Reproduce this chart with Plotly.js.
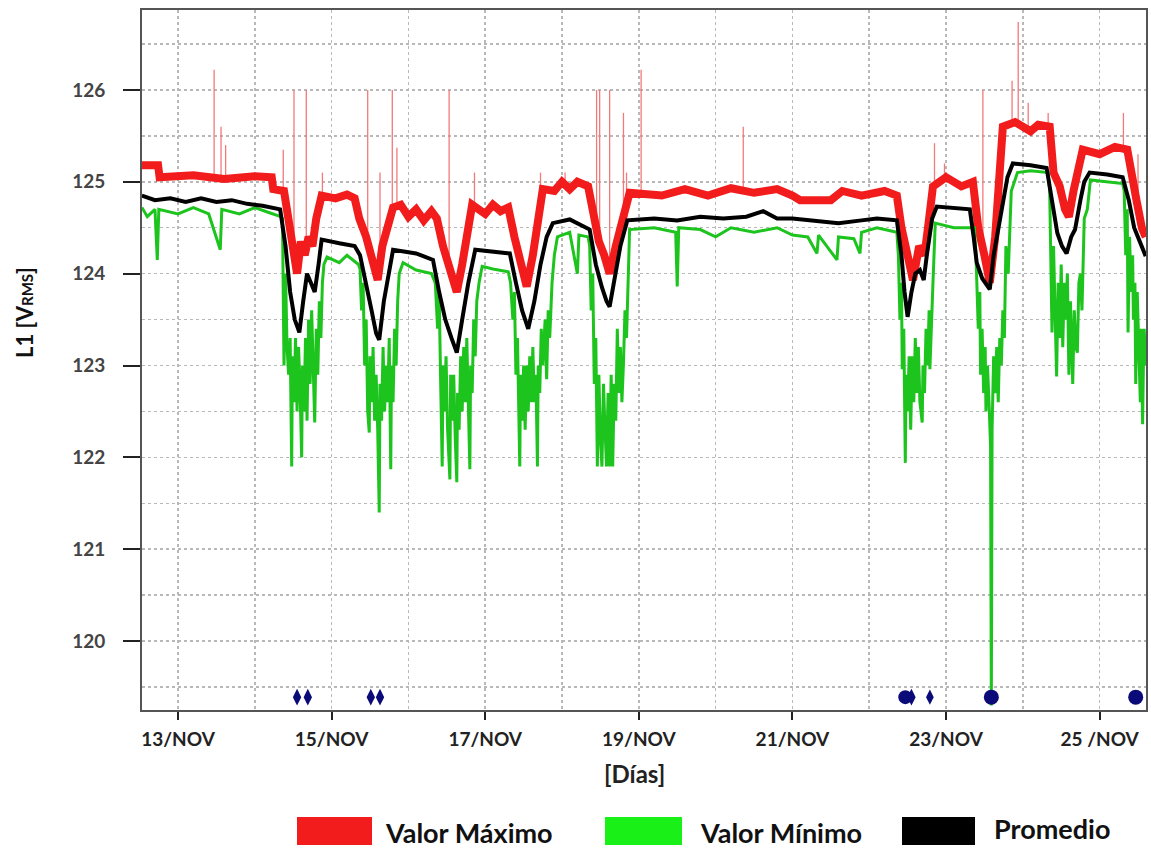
<!DOCTYPE html>
<html>
<head>
<meta charset="utf-8">
<script src="https://cdn.plot.ly/plotly-3.0.1.min.js"></script>
<style>
  html, body { margin: 0; padding: 0; background: #fff; }
  #chart { width: 1151px; height: 848px; }
</style>
</head>
<body>
<div id="chart"></div>
<script>
// ---------------- DATA (time in days of November, voltage in V) ----------------
const xTickVals = [13, 15, 17, 19, 21, 23, 25];
const xTickText = ['13/NOV', '15/NOV', '17/NOV', '19/NOV', '21/NOV', '23/NOV', '25 /NOV'];
const yTickVals = [120, 121, 122, 123, 124, 125, 126];

// Valor Máximo (band)
const maxT = [12.53,12.74,12.76,13.2,13.6,14.0,14.22,14.24,14.38,14.45,14.50,14.55,14.60,14.65,14.70,14.75,14.80,14.87,
  15.05,15.2,15.30,15.36,15.45,15.52,15.60,15.66,15.72,15.80,15.9,16.0,16.1,16.2,16.3,16.37,16.45,16.55,16.63,16.70,16.78,16.83,
  17.0,17.1,17.2,17.30,17.38,17.46,17.54,17.62,17.70,17.75,17.9,18.0,18.1,18.2,18.34,18.40,18.48,18.55,18.62,18.70,18.78,18.88,
  19.3,19.6,19.9,20.2,20.5,20.8,21.0,21.1,21.5,21.65,21.9,22.2,22.36,22.42,22.50,22.57,22.65,22.72,22.78,22.83,
  23.0,23.2,23.35,23.42,23.50,23.57,23.64,23.70,23.74,23.9,24.1,24.2,24.35,24.40,24.48,24.55,24.60,24.66,24.72,24.78,
  25.0,25.2,25.36,25.42,25.48,25.55,25.60];
const maxV = [125.18,125.18,125.05,125.07,125.03,125.06,125.05,124.92,124.9,124.5,124.3,124.0,124.35,124.2,124.4,124.3,124.6,124.85,
  124.82,124.86,124.82,124.6,124.4,124.2,123.93,124.3,124.5,124.72,124.75,124.62,124.7,124.58,124.68,124.6,124.3,124.05,123.8,124.1,124.45,124.75,
  124.65,124.75,124.68,124.72,124.4,124.1,123.86,124.2,124.6,124.92,124.9,125.0,124.92,125.0,124.95,124.7,124.35,124.2,124.0,124.3,124.6,124.88,
  124.85,124.92,124.85,124.93,124.88,124.92,124.85,124.8,124.8,124.9,124.85,124.9,124.85,124.5,124.2,123.93,124.3,124.2,124.6,124.95,
  125.05,124.95,125.0,124.5,124.2,123.9,124.4,125.0,125.6,125.65,125.55,125.62,125.6,125.1,124.95,124.7,124.62,124.9,125.1,125.35,
  125.3,125.38,125.35,125.0,124.8,124.5,124.4];

// Valor Máximo (isolated peaks): time, band level, peak
const maxPeakT    = [13.47,13.56,13.62,14.37,14.51,14.67,14.88,15.47,15.63,15.79,15.85,16.53,16.86,17.72,18.04,18.45,18.49,18.62,18.80,18.84,19.03,20.36,22.85,22.98,23.48,23.86,23.94,24.07,24.33,25.31,25.50];
const maxPeakBase = [125.05,125.05,125.05,124.9,124.3,124.3,124.85,124.4,124.1,124.6,124.7,124.1,124.7,124.7,124.95,124.4,124.3,124.0,124.5,124.6,124.9,124.9,124.95,125.0,124.3,125.6,125.6,125.6,125.6,125.35,124.8];
const maxPeakTop  = [126.22,125.6,125.4,125.35,126.0,126.0,125.1,126.0,125.1,126.0,125.37,126.0,125.1,125.1,125.1,126.0,126.0,126.0,125.75,125.1,126.22,125.6,125.42,125.2,126.0,126.1,126.74,125.86,125.75,125.75,125.3];

// Valor Mínimo
const minT = [
  12.53,12.60,12.70,12.73,12.75,13.0,13.2,13.4,13.55,13.57,13.8,14.0,14.2,14.34,
  14.36,14.38,14.40,14.42,14.44,14.46,14.48,14.49,14.51,14.53,14.55,14.57,14.59,14.61,14.62,14.64,14.66,14.68,14.70,14.72,14.74,14.76,14.78,14.80,14.82,14.84,14.86,14.88,14.90,14.94,
  15.1,15.2,15.35,
  15.37,15.39,15.41,15.43,15.45,15.47,15.49,15.50,15.52,15.54,15.56,15.58,15.60,15.62,15.63,15.65,15.67,15.69,15.71,15.73,15.75,15.77,15.78,15.80,15.82,15.84,15.86,15.88,15.93,
  16.1,16.3,
  16.35,16.38,16.40,16.42,16.44,16.45,16.47,16.49,16.51,16.54,16.55,16.57,16.59,16.61,16.63,16.64,16.66,16.68,16.70,16.72,16.74,16.76,16.78,16.80,16.81,16.83,16.85,16.87,16.89,16.92,16.96,
  17.1,17.3,
  17.33,17.36,17.38,17.40,17.42,17.45,17.46,17.48,17.50,17.52,17.54,17.56,17.58,17.60,17.62,17.64,17.66,17.68,17.69,17.71,17.73,17.75,17.78,17.80,17.82,17.84,17.87,17.90,17.94,
  18.1,18.2,18.22,18.34,
  18.36,18.38,18.40,18.42,18.44,18.46,18.48,18.50,18.52,18.54,18.56,18.58,18.60,18.62,18.64,18.66,18.68,18.70,18.72,18.74,18.76,18.78,18.80,18.82,18.84,18.86,18.88,
  19.2,19.48,19.50,19.52,19.8,20.0,20.2,20.5,20.8,21.0,21.2,21.32,21.34,21.58,21.60,21.8,21.88,21.90,22.1,22.36,
  22.38,22.40,22.42,22.43,22.45,22.47,22.48,22.50,22.52,22.54,22.56,22.58,22.60,22.62,22.64,22.66,22.69,22.70,22.72,22.74,22.76,22.78,22.79,22.81,22.83,22.86,
  23.1,23.37,
  23.39,23.42,23.44,23.45,23.47,23.49,23.51,23.52,23.54,23.56,23.58,23.59,23.60,23.62,23.64,23.66,23.68,23.70,23.72,23.74,23.76,23.78,23.81,23.85,23.93,
  24.1,24.33,
  24.35,24.37,24.38,24.40,24.42,24.44,24.46,24.48,24.50,24.52,24.54,24.56,24.58,24.60,24.62,24.64,24.65,24.67,24.69,24.71,24.73,24.75,24.77,24.80,24.84,24.88,
  25.1,25.30,
  25.32,25.34,25.36,25.37,25.39,25.41,25.43,25.44,25.46,25.47,25.49,25.51,25.53,25.54,25.56,25.57,25.58,25.60];
const minV = [
  124.72,124.62,124.7,124.15,124.7,124.65,124.72,124.65,124.26,124.7,124.65,124.72,124.66,124.62,
  124.6,123.0,124.0,123.2,122.9,123.3,121.9,123.1,122.6,123.3,122.5,123.2,122.7,122.0,123.0,122.5,123.3,122.4,123.5,122.8,123.6,122.9,122.38,123.4,122.9,123.7,123.3,123.9,124.1,124.18,
  124.12,124.2,124.1,
  124.05,123.6,123.9,123.0,123.5,122.5,122.27,123.1,122.6,123.2,122.4,122.9,122.3,121.4,122.8,122.4,123.2,122.5,123.0,122.6,123.3,121.87,123.0,122.6,123.4,123.0,123.7,124.0,124.12,
  124.04,124.0,
  123.9,123.4,123.8,122.8,121.9,123.0,122.5,123.1,122.3,121.76,122.9,122.4,122.9,122.2,121.73,122.7,122.3,123.1,122.5,123.2,122.6,123.3,122.7,121.87,123.0,122.7,123.5,123.1,123.7,123.9,124.08,
  124.05,124.02,
  123.9,123.5,123.8,122.9,123.3,121.9,122.9,122.4,123.0,122.3,123.0,122.5,123.1,122.6,123.2,122.6,122.9,121.9,123.0,122.7,123.4,123.0,123.5,122.85,123.6,123.3,123.9,124.2,124.4,
  124.45,124.0,124.42,124.4,
  124.3,123.6,124.0,122.8,123.3,121.9,122.9,122.2,121.9,122.8,122.3,121.9,122.7,121.9,122.9,121.9,122.8,122.4,123.4,122.7,123.2,122.6,123.03,123.6,123.3,124.0,124.48,
  124.5,124.45,123.86,124.5,124.48,124.4,124.5,124.45,124.5,124.42,124.4,124.22,124.42,124.15,124.4,124.38,124.22,124.45,124.5,124.45,
  124.2,123.5,123.9,122.96,123.4,121.94,122.9,122.5,123.1,122.3,123.1,122.6,123.3,122.7,123.2,122.6,122.38,123.0,122.7,123.4,123.0,123.6,122.96,123.5,123.9,124.55,
  124.5,124.5,
  124.2,123.4,123.8,122.9,123.4,122.7,123.2,122.5,123.0,122.6,122.12,119.3,122.3,123.1,122.7,123.2,122.6,123.3,123.0,123.6,123.3,124.3,124.0,124.9,125.1,
  125.12,125.1,
  124.9,123.9,123.36,124.3,123.6,122.88,123.9,123.3,124.1,123.2,123.9,123.5,124.0,122.9,123.7,122.9,122.8,123.6,123.2,123.14,123.9,124.0,123.6,124.6,124.7,125.02,
  125.0,124.98,
  124.9,124.2,124.7,123.36,124.4,123.8,124.2,123.5,123.9,122.8,123.8,123.2,122.6,123.4,122.36,123.0,123.4,123.0];

// Promedio
const avgT = [12.53,12.7,12.9,13.1,13.3,13.5,13.7,13.9,14.1,14.25,14.33,14.40,14.46,14.52,14.58,14.63,14.68,14.73,14.78,14.83,14.87,
  15.1,15.3,15.37,15.45,15.52,15.58,15.62,15.68,15.74,15.80,16.1,16.32,16.40,16.48,16.56,16.63,16.70,16.78,16.87,
  17.1,17.32,17.40,17.48,17.56,17.64,17.72,17.80,17.88,18.1,18.36,18.44,18.52,18.58,18.62,18.68,18.76,18.85,
  19.2,19.5,19.8,20.1,20.4,20.62,20.8,21.0,21.3,21.6,21.9,22.1,22.36,22.42,22.46,22.50,22.55,22.60,22.66,22.71,22.75,22.82,22.88,
  23.1,23.31,23.36,23.40,23.47,23.53,23.57,23.62,23.68,23.74,23.80,23.87,24.1,24.31,24.38,24.45,24.51,24.57,24.63,24.68,24.75,24.80,24.87,
  25.1,25.30,25.38,25.45,25.52,25.60];
const avgV = [124.85,124.8,124.82,124.78,124.82,124.78,124.8,124.76,124.74,124.72,124.7,124.3,123.8,123.5,123.36,123.7,124.0,123.9,123.8,124.1,124.37,
  124.33,124.3,124.2,123.9,123.6,123.35,123.28,123.7,124.0,124.26,124.22,124.15,123.8,123.5,123.3,123.14,123.5,123.9,124.26,
  124.24,124.22,123.9,123.6,123.4,123.7,124.1,124.4,124.55,124.59,124.48,124.1,123.85,123.7,123.64,123.9,124.3,124.58,
  124.6,124.58,124.62,124.6,124.62,124.68,124.6,124.6,124.57,124.55,124.58,124.6,124.58,124.2,123.8,123.53,123.8,124.0,124.04,123.93,124.2,124.6,124.73,
  124.72,124.7,124.4,124.12,123.95,123.88,123.83,124.2,124.5,124.8,125.05,125.2,125.18,125.15,124.8,124.44,124.3,124.22,124.4,124.48,124.8,125.0,125.1,
  125.08,125.05,124.8,124.5,124.35,124.19];

// Event markers on the time axis
const eventT = [14.55, 14.69, 15.51, 15.63, 22.47, 22.55, 22.79, 23.59, 25.47];
const eventV = [119.39, 119.39, 119.39, 119.39, 119.39, 119.39, 119.39, 119.39, 119.39];

// Legend labels
const legendLabels = ['Valor Máximo', 'Valor Mínimo', 'Promedio'];
const legendColors = ['#f21c1c', '#18f018', '#000000'];

// ---------------- BUILD ----------------
const peakX = [], peakY = [];
for (let i = 0; i < maxPeakT.length; i++) {
  peakX.push(maxPeakT[i], maxPeakT[i], null);
  peakY.push(maxPeakBase[i], maxPeakTop[i], null);
}

const traces = [
  { x: peakX, y: peakY, mode: 'lines', line: { color: '#f27a7a', width: 1.3 }, hoverinfo: 'skip', showlegend: false },
  { x: maxT, y: maxV, mode: 'lines', name: legendLabels[0], line: { color: '#f21c1c', width: 8 }, showlegend: false },
  { x: minT, y: minV, mode: 'lines', name: legendLabels[1], line: { color: '#1ec41e', width: 3 }, showlegend: false },
  { x: avgT, y: avgV, mode: 'lines', name: legendLabels[2], line: { color: '#000000', width: 4 }, showlegend: false },
  { x: eventT, y: eventV, mode: 'markers', hoverinfo: 'skip', showlegend: false,
    marker: { color: '#0a0a78', opacity: 1, line: { width: 0 }, size: [12,12,12,12,14,12,11,15,15],
      symbol: ['diamond-tall','diamond-tall','diamond-tall','diamond-tall','circle','diamond-tall','diamond-tall','circle','circle'] } }
];

const plotL = 142, plotR = 1146, plotT = 10, plotB = 710;
const pw = plotR - plotL, ph = plotB - plotT;
const px = v => (v - plotL) / pw;
const py = v => (plotB - v) / ph;

const legendBoxes = [[297, 372], [605, 682], [902, 975]];
const legendTextX = [383, 698, 992];
const legendTextY = [832, 832, 828];

const shapes = legendBoxes.map((b, i) => ({
  type: 'rect', xref: 'paper', yref: 'paper',
  x0: px(b[0]), x1: px(b[1]), y0: py(845), y1: py(817),
  fillcolor: legendColors[i], line: { width: 0 }
}));

const font = 'Lato, "Open Sans", sans-serif';
const annotations = legendLabels.map((t, i) => ({
  text: t, xref: 'paper', yref: 'paper', x: px(legendTextX[i]), y: py(legendTextY[i]),
  xanchor: 'left', yanchor: 'middle', showarrow: false,
  font: { family: font, size: 27, color: '#111', weight: 'bold' }
}));
annotations.push({
  text: 'L1 [V<span style="font-size:15px">RMS</span>]', xref: 'paper', yref: 'paper',
  x: px(24), y: py(313), textangle: -90, showarrow: false, xanchor: 'center', yanchor: 'middle',
  font: { family: font, size: 22, color: '#111', weight: 'bold' }
});
annotations.push({
  text: '[Días]', xref: 'paper', yref: 'paper', x: px(634), y: py(773), showarrow: false,
  xanchor: 'center', yanchor: 'middle',
  font: { family: font, size: 24, color: '#222', weight: 'bold' }
});

const gridColor = '#b8b8b8';
const layout = {
  width: 1151, height: 848,
  margin: { l: plotL, r: 1151 - plotR, t: plotT, b: 848 - plotB },
  paper_bgcolor: '#ffffff', plot_bgcolor: '#ffffff',
  showlegend: false,
  xaxis: {
    range: [12.531, 25.604], tickmode: 'array', tickvals: xTickVals, ticktext: xTickText,
    showgrid: true, gridcolor: gridColor, griddash: 'dot', gridwidth: 1.5,
    minor: { tick0: 13, dtick: 1, showgrid: true, gridcolor: gridColor, griddash: 'dot', gridwidth: 1.5, ticks: '' },
    ticks: 'outside', ticklen: 8, tickwidth: 2, tickcolor: '#222',
    showline: true, mirror: true, linecolor: '#555', linewidth: 2,
    zeroline: false, ticklabelstandoff: 3,
    tickfont: { family: font, size: 19, color: '#222', weight: 'bold' }
  },
  yaxis: {
    range: [119.25, 126.87], tickmode: 'array', tickvals: yTickVals,
    showgrid: true, gridcolor: gridColor, griddash: 'dot', gridwidth: 1.5,
    minor: { dtick: 0.5, showgrid: true, gridcolor: gridColor, griddash: 'dot', gridwidth: 1.5, ticks: '' },
    ticks: 'outside', ticklen: 17, tickwidth: 2, tickcolor: '#222',
    showline: true, mirror: true, linecolor: '#555', linewidth: 2,
    zeroline: false, ticklabelstandoff: 14,
    tickfont: { family: font, size: 19, color: '#444', weight: 'bold' }
  },
  shapes: shapes,
  annotations: annotations
};

Plotly.newPlot('chart', traces, layout, { displayModeBar: false, staticPlot: true });
</script>
</body>
</html>
